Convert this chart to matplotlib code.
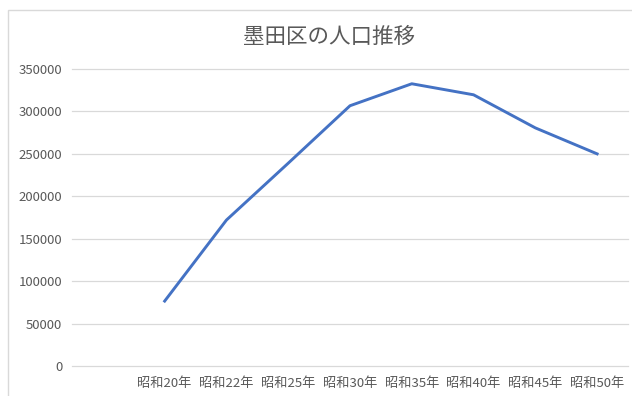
import matplotlib
matplotlib.use("Agg")
import matplotlib.pyplot as plt
from matplotlib.patches import Rectangle
import numpy as np

plt.rcParams['font.family'] = ['Noto Sans CJK JP', 'DejaVu Sans']

# データ (先頭は空のカテゴリ)
labels = ['', '昭和20年', '昭和22年', '昭和25年', '昭和30年',
          '昭和35年', '昭和40年', '昭和45年', '昭和50年']
population = [np.nan, 76500, 172000, 239000, 306700,
              332600, 319600, 280600, 250000]
yticks = [0, 50000, 100000, 150000, 200000, 250000, 300000, 350000]

W, H = 632, 396
fig = plt.figure(figsize=(W / 100, H / 100), dpi=100)

# グラフエリアの枠
fig.patches.append(Rectangle((8 / W, -0.05), 1.0, (H - 10) / H + 0.05,
                             transform=fig.transFigure, fill=False,
                             edgecolor='#D9D9D9', linewidth=1.0))

ax = fig.add_axes([72 / W, (H - 366) / H, (628 - 72) / W, (366 - 69) / H])
x = np.arange(len(labels))
ax.plot(x, population, color='#4472C4', linewidth=2.1, solid_joinstyle='round')

ax.set_xlim(-0.5, len(labels) - 0.5)
ax.set_ylim(0, 350000)
ax.set_yticks(yticks)
ax.set_yticklabels([str(v) for v in yticks])
ax.set_xticks(x)
ax.set_xticklabels(labels)
ax.grid(axis='y', color='#D9D9D9', linewidth=0.9)
for gl in ax.get_ygridlines():
    gl.set_clip_on(False)
ax.set_axisbelow(True)
for s in ax.spines.values():
    s.set_visible(False)
ax.tick_params(axis='both', length=0, colors='#595959', labelsize=9.5)
ax.tick_params(axis='y', pad=7)
ax.tick_params(axis='x', pad=8)

fig.text(329 / W, 1 - 37 / H, '墨田区の人口推移', ha='center', va='center',
         fontsize=15.5, color='#595959')

fig.savefig('out.png', dpi=100)
